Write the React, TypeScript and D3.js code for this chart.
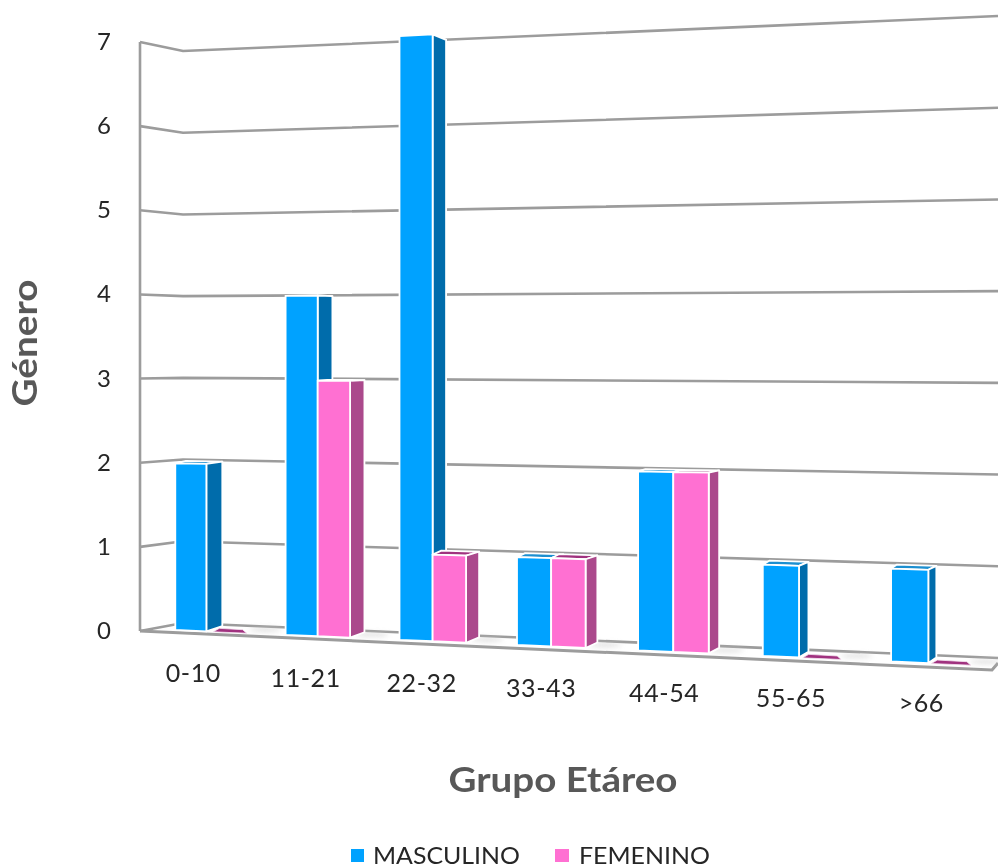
import React from "react";
import * as d3 from "d3";

const categories = ["0-10", "11-21", "22-32", "33-43", "44-54", "55-65", ">66"];
const masculino = [2, 4, 7, 1, 2, 1, 1];
const femenino = [0, 3, 1, 1, 2, 0, 0];
const yTicks = [0, 1, 2, 3, 4, 5, 6, 7];
const seriesNames = ["MASCULINO", "FEMENINO"];

const palette = {
  m: { front: "#00a2ff", side: "#006cab", top: "#1c8fd0" },
  f: { front: "#ff70d2", side: "#ab4a8c", top: "#a0307f" },
};
const FONT = "Lato, 'Open Sans', sans-serif";

// Perspective projection of the 3D column chart, expressed as scales
const W = 998;
const H = 867;
const xLin = d3.scaleLinear().domain([0, 1]).range([175.3, 283.8]);
const frontX = (t: number) => xLin(t) + 1.8 * t * t;
const baseY = d3.scaleLinear().domain([176, 893]).range([630, 661.5]);
const unitPx = d3.scaleLinear().domain([176, 893]).range([83.3, 92.8]);
const depthX = d3.scaleLinear().domain([200, 930]).range([16, 8]);
const leftWall = d3.scaleLinear().domain([0, 7]).range([631, 42]);
const corner = d3.scaleLinear().domain([0, 7]).range([623, 51]);
const rightEnd = d3.scaleLinear().domain([0, 7]).range([658, 16]);
const labelY = d3.scaleLinear().domain([0, 6]).range([682, 712]);
const labelOff = d3.scaleLinear().domain([0, 6]).range([13, 7]);

const WALL_X = 140;
const CORNER_X = 183;
const FLOOR_END_X = 992;
const BAR_W = 0.285;
const line = d3.line<[number, number]>();

function poly(points: [number, number][]) {
  return line(points)! + "Z";
}

function Bar({ t, v, c }: { t: number; v: number; c: { front: string; side: string; top: string } }) {
  const x0 = frontX(t);
  const x1 = frontX(t + BAR_W);
  const y = (x: number, val: number) => baseY(x) - val * unitPx(x);
  const backY = (x: number, val: number) => baseY(x) - 6 - val * unitPx(x) * 0.98;

  if (v === 0) {
    const s = depthX(x0) * 0.5;
    const a: [number, number] = [x0 + s - 1, baseY(x0) + 0.5];
    const b: [number, number] = [x1 + s + 1, baseY(x1) + 0.5];
    const p: [number, number][] = [a, b, [b[0] - 4, b[1] - 3.5], [a[0] + 6, a[1] - 3.5]];
    return <path d={poly(p)} fill={c.top} stroke="#f4e6f0" strokeWidth={0.8} />;
  }
  const d0 = depthX(x0) * 0.65;
  const d1 = depthX(x1);
  const top: [number, number][] = [
    [x0, y(x0, v)],
    [x1, y(x1, v)],
    [x1 + d1, backY(x1 + d1, v)],
    [x0 + d0, backY(x0 + d0, v)],
  ];
  const side: [number, number][] = [
    [x1, y(x1, v)],
    [x1 + d1, backY(x1 + d1, v)],
    [x1 + d1, backY(x1 + d1, 0)],
    [x1, y(x1, 0)],
  ];
  const front: [number, number][] = [
    [x0, y(x0, v)],
    [x1, y(x1, v)],
    [x1, y(x1, 0)],
    [x0, y(x0, 0)],
  ];
  return (
    <g stroke="#ffffff" strokeWidth={1.8} strokeLinejoin="round">
      <path d={poly(top)} fill={c.top} />
      <path d={poly(side)} fill={c.side} />
      <path d={poly(front)} fill={c.front} />
    </g>
  );
}

function Shadow({ t, v }: { t: number; v: number }) {
  const xe = frontX(t + BAR_W);
  const s = depthX(xe);
  return (
    <ellipse
      cx={xe + s + (v === 0 ? 12 : 8)}
      cy={baseY(xe) - 3}
      rx={16}
      ry={2.2}
      fill="#c9c9c9"
      opacity={0.55}
      filter="url(#soft)"
    />
  );
}

export default function App() {
  const gray = "#9c9c9c";
  const floorFront = (x: number) => 631 + 0.0458 * (x - WALL_X);
  const floor: [number, number][] = [
    [WALL_X, leftWall(0)],
    [CORNER_X, corner(0)],
    [W, rightEnd(0)],
    [W, 663],
    [FLOOR_END_X, floorFront(FLOOR_END_X)],
  ];
  return (
    <svg
      width={W}
      height={H}
      viewBox={`0 0 ${W} ${H}`}
      style={{ position: "absolute", left: 0, top: 0, background: "#fff" }}
    >
      <defs>
        <filter id="blur" x="-2%" y="-2%" width="104%" height="104%">
          <feGaussianBlur stdDeviation="0.5" />
        </filter>
        <filter id="soft" x="-40%" y="-200%" width="180%" height="500%">
          <feGaussianBlur stdDeviation="2.5" />
        </filter>
      </defs>
      <g filter="url(#blur)">
        {/* walls */}
        <path d={poly(floor)} fill="#ffffff" />
        <path
          d={line([[WALL_X, leftWall(7)], [WALL_X, leftWall(0)]] as [number, number][])!}
          stroke={gray}
          strokeWidth={2.6}
          fill="none"
        />
        {yTicks.map((v) => (
          <path
            key={v}
            d={line([[WALL_X, leftWall(v)], [CORNER_X, corner(v)], [W, rightEnd(v)]] as [number, number][])!}
            stroke={gray}
            strokeWidth={2.6}
            fill="none"
          />
        ))}
        <path
          d={line([[WALL_X, leftWall(0)], [FLOOR_END_X, floorFront(FLOOR_END_X)], [W, 663]] as [number, number][])!}
          stroke={gray}
          strokeWidth={3}
          fill="none"
        />

        {/* bars */}
        {categories.map((_, i) => (
          <g key={i}>
            <Shadow t={i + BAR_W} v={femenino[i]} />
            {femenino[i] === 0 && <Bar t={i + BAR_W} v={0} c={palette.f} />}
            <Bar t={i} v={masculino[i]} c={palette.m} />
            {femenino[i] > 0 && <Bar t={i + BAR_W} v={femenino[i]} c={palette.f} />}
          </g>
        ))}

        {/* y tick labels */}
        {yTicks.map((v) => (
          <text
            key={v}
            x={104}
            y={leftWall(v) + 8}
            textAnchor="middle"
            fontFamily={FONT}
            fontSize={24}
            fill="#262626"
          >
            {v}
          </text>
        ))}

        {/* category labels */}
        {categories.map((c, i) => (
          <text
            key={c}
            x={frontX(i + BAR_W) - labelOff(i)}
            y={labelY(i)}
            textAnchor="middle"
            fontFamily={FONT}
            fontSize={25}
            letterSpacing={0.6}
            fill="#262626"
          >
            {c}
          </text>
        ))}

        {/* axis titles */}
        <text
          transform="translate(37,343) rotate(-90)"
          textAnchor="middle"
          fontFamily={FONT}
          fontWeight={700}
          fontSize={34}
          textLength={127}
          lengthAdjust="spacingAndGlyphs"
          fill="#595959"
        >
          Género
        </text>
        <text
          x={563}
          y={792}
          textAnchor="middle"
          fontFamily={FONT}
          fontWeight={700}
          fontSize={34}
          textLength={229}
          lengthAdjust="spacingAndGlyphs"
          fill="#595959"
        >
          Grupo Etáreo
        </text>

        {/* legend */}
        <rect x={351} y={849} width={13} height={13} fill={palette.m.front} />
        <text x={373} y={864} fontFamily={FONT} fontSize={24} textLength={147} lengthAdjust="spacingAndGlyphs" fill="#262626">
          {seriesNames[0]}
        </text>
        <rect x={555} y={849} width={14} height={13} fill={palette.f.front} />
        <text x={579} y={864} fontFamily={FONT} fontSize={24} textLength={131} lengthAdjust="spacingAndGlyphs" fill="#262626">
          {seriesNames[1]}
        </text>
      </g>
    </svg>
  );
}
